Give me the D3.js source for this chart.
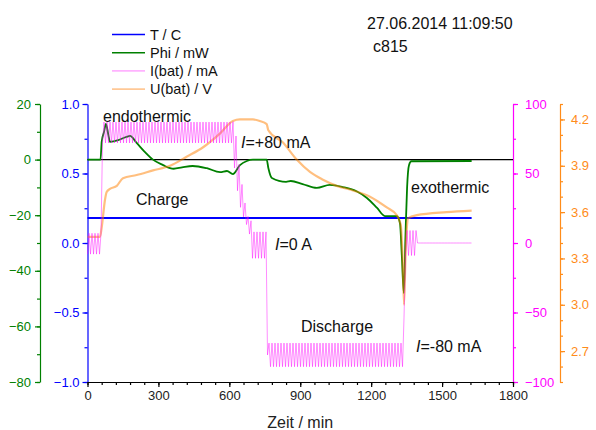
<!DOCTYPE html>
<html><head><meta charset="utf-8">
<script src="https://cdn.jsdelivr.net/npm/d3@7"></script>
<style>
body{margin:0;background:#fff;}
svg{display:block;font-family:Arial,"Liberation Sans",sans-serif;}
</style></head>
<body><svg id="c" width="596" height="430"></svg>
<script>
// ---- data ----
const xTicks = [0, 300, 600, 900, 1200, 1500, 1800];
const greenTicks = [-80, -60, -40, -20, 0, 20];
const blueTicks = [-1.0, -0.5, 0.0, 0.5, 1.0];
const magentaTicks = [-100, -50, 0, 50, 100];
const orangeTicks = [2.7, 3.0, 3.3, 3.6, 3.9, 4.2];

// T / C (blue axis)
const tTime = [0, 1625];
const tVal = [0.18, 0.18];

// Phi / mW (green axis)
const phiTime = [0, 55, 60, 70, 78, 88, 95, 130, 165, 180, 208, 240, 277, 320, 349, 365, 400, 445, 505, 561, 590, 615, 645, 674, 700, 758, 765, 780, 840, 860, 910, 970, 1025, 1081, 1140, 1182, 1225, 1258, 1309, 1322, 1330, 1338, 1346, 1352, 1360, 1370, 1625];
const phiVal = [0, 0, 6.4, 10, 12.8, 9, 6.4, 7, 8.2, 8.5, 6, 3, 0, -2, -3.1, -3.3, -2.8, -2.3, -3.1, -4.5, -4.1, -5.2, -2, -0.5, 0, 0, -3, -6.6, -8, -7.7, -8.8, -10.2, -9.1, -9.9, -11.5, -13.8, -17.4, -20.3, -20.3, -23, -35, -48, -25, -10, -2, -0.6, -0.5];

// I(bat) / mA (magenta axis) : ripple envelope
const iTime = [0, 58, 62, 612, 624, 632, 649, 666, 683, 692, 696, 757, 762, 1338, 1342, 1390, 1395, 1625];
const iLow  = [-8, -8, 72, 72, 50, 40, 24, 16, 9, -1, -11, -11, -89, -89, -9, -9, 0, 0];
const iHigh = [7, 7, 87, 87, 88, 67, 47, 29, 16, 16, 8, 8, -72, -72, 9, 9, 0, 0];

// U(bat) / V (orange axis)
const uTime = [0, 53, 60, 74, 81, 95, 124, 150, 208, 277, 349, 421, 489, 561, 615, 645, 700, 729, 758, 765, 827, 885, 941, 996, 1054, 1123, 1195, 1266, 1308, 1325, 1333, 1339, 1345, 1352, 1356, 1393, 1519, 1625];
const uVal = [3.44, 3.44, 3.5, 3.68, 3.73, 3.75, 3.77, 3.82, 3.84, 3.87, 3.90, 3.96, 4.02, 4.11, 4.19, 4.2, 4.2, 4.19, 4.17, 4.13, 4.05, 3.94, 3.86, 3.81, 3.77, 3.74, 3.70, 3.63, 3.58, 3.52, 3.3, 3.0, 3.3, 3.52, 3.56, 3.58, 3.60, 3.61];

const legendNames = ["T / C", "Phi / mW", "I(bat) / mA", "U(bat) / V"];
const legendColors = ["#0000ff", "#008000", "#ffb3ff", "#ffc896"];

// ---- chart ----
const svg = d3.select("#c");
const L = 87.5, R = 513, T = 104, B = 382;
const x = d3.scaleLinear().domain([0, 1800]).range([L, R]);
const yG = d3.scaleLinear().domain([-80, 20]).range([B, T]);
const yB = d3.scaleLinear().domain([-1, 1]).range([B, T]);
const yM = d3.scaleLinear().domain([-100, 100]).range([B, T]);
const yO = d3.scaleLinear().domain([2.5, 4.3]).range([B, T]);

const fontTick = "13px";

function drawAxis(gen, pos, color, major, minor, fmt, vertical) {
  const g = svg.append("g").attr("transform", vertical ? `translate(${pos},0)` : `translate(0,${pos})`);
  g.call(gen.tickValues(minor).tickFormat("").tickSize(3).tickSizeOuter(0));
  const g2 = svg.append("g").attr("transform", vertical ? `translate(${pos},0)` : `translate(0,${pos})`);
  g2.call(gen.tickValues(major).tickFormat(fmt).tickSize(5).tickSizeOuter(0));
  [g, g2].forEach(s => {
    s.selectAll("path,line").attr("stroke", color).attr("stroke-width", 1.2);
    s.selectAll("text").attr("fill", color).style("font-size", fontTick).style("font-family", "Arial, 'Liberation Sans', sans-serif");
  });
  g2.select("path").remove();
  return g2;
}

// green axis
drawAxis(d3.axisLeft(yG).tickPadding(4), 40, "#008000", greenTicks, d3.range(-80, 21, 10), d3.format("d"), true);
// blue axis
drawAxis(d3.axisLeft(yB).tickPadding(3), L, "#0000ff", blueTicks, d3.range(-1, 1.01, 0.25), d3.format(".1f"), true);
// magenta axis
drawAxis(d3.axisRight(yM).tickPadding(7), R, "#ff00ff", magentaTicks, d3.range(-100, 101, 25), d3.format("d"), true);
// orange axis
drawAxis(d3.axisRight(yO).tickPadding(6), 560, "#ff8c1a", orangeTicks, d3.range(25, 44).map(v => v / 10), d3.format(".1f"), true);
// x axis
const gx = drawAxis(d3.axisBottom(x).tickPadding(4), B, "#000", xTicks, d3.range(0, 1801, 60), d3.format("d"), false);
gx.selectAll("text").attr("fill", "#222");

svg.append("text").attr("x", (L + R) / 2).attr("y", 428).attr("text-anchor", "middle")
  .style("font-size", "16px").attr("fill", "#222").text("Zeit / min");

// zero line of Phi
svg.append("line").attr("x1", x(0)).attr("x2", x(1800)).attr("y1", yG(0)).attr("y2", yG(0))
  .attr("stroke", "#000").attr("stroke-width", 1.2);

// T
svg.append("path").datum(tTime.map((t, i) => [t, tVal[i]]))
  .attr("d", d3.line().x(d => x(d[0])).y(d => yB(d[1])))
  .attr("fill", "none").attr("stroke", "#0000ff").attr("stroke-width", 2.2);

// Phi
svg.append("path").datum(phiTime.map((t, i) => [t, phiVal[i]]))
  .attr("d", d3.line().curve(d3.curveMonotoneX).x(d => x(d[0])).y(d => yG(d[1])))
  .attr("fill", "none").attr("stroke", "#008000").attr("stroke-width", 1.8);

// U
svg.append("path").datum(uTime.map((t, i) => [t, uVal[i]]))
  .attr("d", d3.line().curve(d3.curveMonotoneX).x(d => x(d[0])).y(d => yO(d[1])))
  .attr("fill", "none").attr("stroke", "#ff8000").attr("stroke-opacity", 0.5).attr("stroke-width", 2.2);

// I(bat): ripple between envelope values (drawn as zigzag, 1.5 px half-period)
const lowAt = d3.scaleLinear().domain(iTime).range(iLow);
const highAt = d3.scaleLinear().domain(iTime).range(iHigh);
const ripple = [];
const halfPeriod = x.invert(L + 1.5) - x.invert(L);
let k = 0;
for (let t = 0; t <= iTime[iTime.length - 1]; t += halfPeriod, k++) {
  ripple.push([t, (k % 2 === 0) ? lowAt(t) : highAt(t)]);
}
svg.append("path").datum(ripple)
  .attr("d", d3.line().x(d => x(d[0])).y(d => yM(d[1])))
  .attr("fill", "none").attr("stroke", "#ff00ff").attr("stroke-opacity", 0.45).attr("stroke-width", 1);

// annotations
function ann(xp, yp, parts) {
  const t = svg.append("text").attr("x", xp).attr("y", yp).style("font-size", "16px").attr("fill", "#111");
  parts.forEach(p => t.append("tspan").style("font-style", p[1] ? "italic" : "normal").text(p[0]));
}
ann(103, 122, [["endothermic", 0]]);
ann(136, 205, [["Charge", 0]]);
ann(241, 148, [["I", 1], ["=+80 mA", 0]]);
ann(275, 250, [["I", 1], ["=0 A", 0]]);
ann(301, 332, [["Discharge", 0]]);
ann(416, 352, [["I", 1], ["=-80 mA", 0]]);
ann(411, 193, [["exothermic", 0]]);

// header
svg.append("text").attr("x", 367).attr("y", 29).style("font-size", "16px").attr("fill", "#111").text("27.06.2014 11:09:50");
svg.append("text").attr("x", 373).attr("y", 52).style("font-size", "16px").attr("fill", "#111").text("c815");

// legend
legendNames.forEach((n, i) => {
  const yy = 34.5 + i * 18.2;
  svg.append("line").attr("x1", 112).attr("x2", 145).attr("y1", yy).attr("y2", yy)
    .attr("stroke", legendColors[i]).attr("stroke-width", 1.6);
  svg.append("text").attr("x", 150).attr("y", yy + 5).style("font-size", "14.5px").attr("fill", "#111").text(n);
});
</script></body></html>
